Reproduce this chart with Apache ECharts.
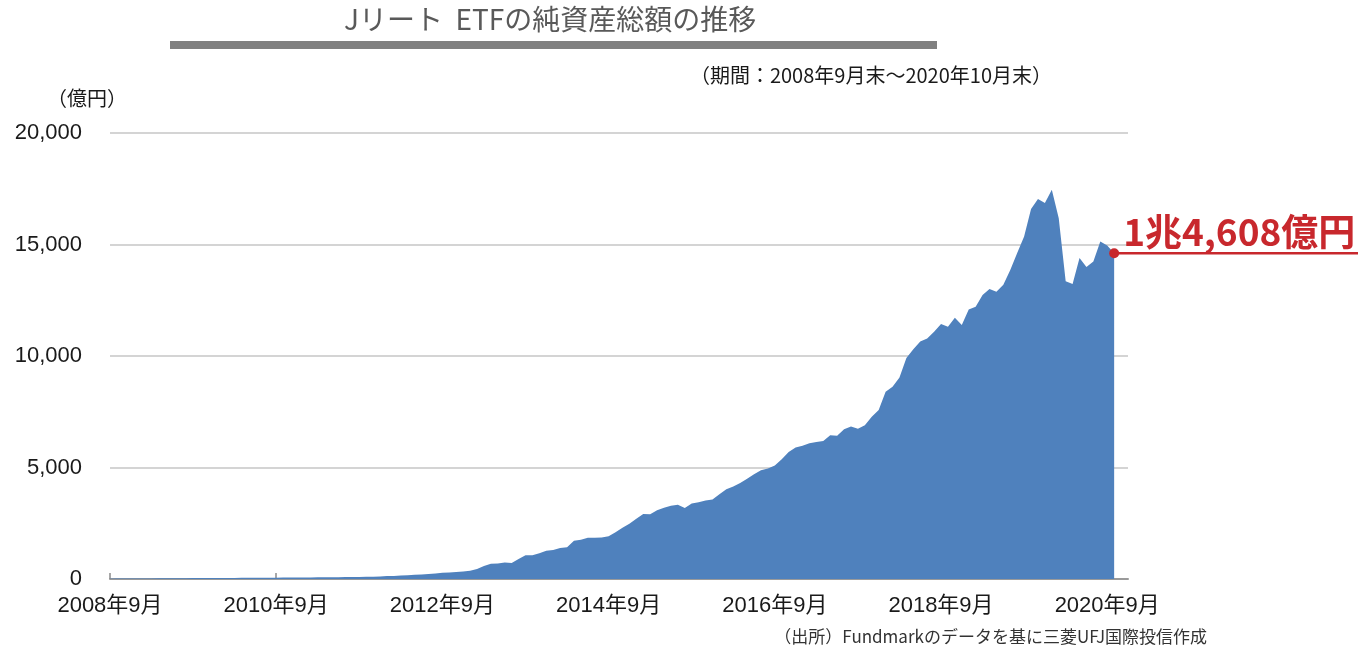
<!DOCTYPE html>
<html>
<head>
<meta charset="utf-8">
<script src="https://cdn.jsdelivr.net/npm/echarts@6/dist/echarts.min.js"></script>
<style>
  html, body { margin: 0; padding: 0; background: #fff; }
  #chart { width: 1358px; height: 648px; }
</style>
</head>
<body>
<div id="chart"></div>
<script>
// 月末の純資産総額（億円）2008年9月末～2020年10月末
const startYear = 2008;
const startMonth = 9;
const extraMonths = 2; // 軸を少し右まで伸ばすための空き

const netAssets = [
  15, 18, 20, 22, 25, 27, 28, 30, 32, 34, 36, 38,
  40, 42, 44, 45, 46, 48, 50, 52, 54, 55, 57, 58,
  60, 62, 65, 68, 70, 72, 75, 78, 80, 82, 85, 88,
  92, 98, 105, 115, 130, 140, 155, 170, 185, 200, 220, 245,
  280, 290, 310, 340, 370, 450, 580, 680, 690, 740, 720, 900,
  1060, 1070, 1150, 1270, 1300, 1390, 1420, 1720, 1760, 1850, 1850, 1860,
  1920, 2100, 2300, 2480, 2700, 2920, 2900, 3080, 3200, 3290, 3330, 3180,
  3390, 3440, 3520, 3560, 3800, 4030, 4150, 4300, 4500, 4700, 4880, 4960,
  5090, 5370, 5700, 5900, 5980, 6090, 6140, 6190, 6450, 6420, 6720, 6840,
  6740, 6900, 7280, 7580, 8400, 8620, 9040, 9910, 10300, 10650, 10790, 11090,
  11430, 11310, 11720, 11390, 12090, 12210, 12730, 13000, 12880, 13190, 13860, 14620,
  15360, 16590, 17040, 16860, 17450, 16180, 13350, 13230, 14390, 13990, 14240, 15140,
  14950, 14608
];

const yTicks = [0, 5000, 10000, 15000, 20000];
const labelEvery = 24; // 2年ごとの目盛り
const lastLabel = "1兆4,608億円";

// カテゴリ（年月）
const months = [];
for (let i = 0; i < netAssets.length + extraMonths; i++) {
  const m = startMonth - 1 + i;
  months.push((startYear + Math.floor(m / 12)) + "年" + ((m % 12) + 1) + "月");
}

const numFont = '"Liberation Sans", "Noto Sans CJK JP", sans-serif';
const jpFont = '"Noto Sans CJK JP", sans-serif';

let myChart = echarts.init(document.getElementById("chart"));

myChart.setOption({
  animation: false,
  grid: {
    left: 110,
    right: 230,
    top: 133,
    bottom: 69,
    containLabel: false,
  },
  xAxis: {
    type: "category",
    data: months,
    boundaryGap: false,
    axisLine: { lineStyle: { color: "#9a9a9a", width: 2 } },
    axisTick: {
      inside: true,
      length: 6,
      interval: (index) => index % labelEvery === 0,
      lineStyle: { color: "#8c8c8c", width: 1.5 },
    },
    axisLabel: {
      interval: (index) => index % labelEvery === 0,
      margin: 16,
      color: "#1a1a1a",
      fontSize: 22,
      fontFamily: numFont,
    },
    splitLine: { show: false },
  },
  yAxis: {
    type: "value",
    min: yTicks[0],
    max: yTicks[yTicks.length - 1],
    interval: 5000,
    axisLine: { show: false },
    axisTick: { show: false },
    axisLabel: {
      margin: 28,
      color: "#1a1a1a",
      fontSize: 22,
      fontFamily: numFont,
      formatter: (v) => v.toLocaleString("en-US"),
    },
    splitLine: { lineStyle: { color: "#c6c6c6", width: 1.5 } },
  },
  series: [
    {
      name: "純資産総額",
      type: "line",
      data: netAssets,
      showSymbol: false,
      lineStyle: { width: 0 },
      areaStyle: { color: "#4f81bd", opacity: 1 },
      z: 3,
    },
  ],
  graphic: [
    {
      id: "title",
      type: "text",
      left: 344,
      top: 5,
      style: {
        text: "Jリート  ETFの純資産総額の推移",
        fill: "#595959",
        font: "28px " + jpFont,
      },
    },
    {
      id: "titleBar",
      type: "rect",
      shape: { x: 170, y: 41, width: 767, height: 8 },
      style: { fill: "#808080" },
    },
    {
      id: "period",
      type: "text",
      right: 306,
      top: 65,
      style: {
        text: "（期間：2008年9月末～2020年10月末）",
        fill: "#1a1a1a",
        font: "20px " + jpFont,
      },
    },
    {
      id: "unit",
      type: "text",
      left: 47,
      top: 88,
      style: {
        text: "（億円）",
        fill: "#1a1a1a",
        font: "20px " + jpFont,
      },
    },
    {
      id: "source",
      type: "text",
      right: 151,
      top: 628,
      style: {
        text: "（出所）Fundmarkのデータを基に三菱UFJ国際投信作成",
        fill: "#333",
        font: "17px " + jpFont,
      },
    },
  ],
});

// 最終値の注記（位置はライブラリの座標変換から求める）
const lastIdx = netAssets.length - 1;
const pt = myChart.convertToPixel({ seriesIndex: 0 }, [lastIdx, netAssets[lastIdx]]);
const red = "#c8282d";

myChart.setOption({
  graphic: [
    {
      id: "lastLine",
      type: "line",
      shape: { x1: pt[0], y1: pt[1], x2: 1358, y2: pt[1] },
      style: { stroke: red, lineWidth: 2.5 },
      z: 10,
    },
    {
      id: "lastDot",
      type: "circle",
      shape: { cx: pt[0], cy: pt[1], r: 5 },
      style: { fill: red },
      z: 11,
    },
    {
      id: "lastText",
      type: "text",
      x: pt[0] + 9,
      y: pt[1] - 21,
      style: {
        text: lastLabel,
        fill: red,
        font: "bold 37px " + jpFont,
        textVerticalAlign: "middle",
      },
      z: 11,
    },
  ],
});
</script>
</body>
</html>
